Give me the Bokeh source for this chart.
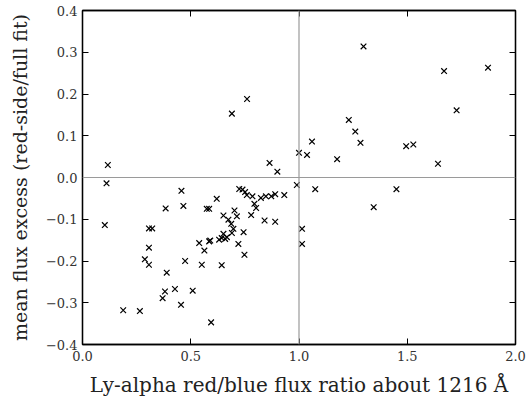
from bokeh.plotting import figure
from bokeh.models import Span, LinearAxis, FixedTicker, Range1d
from bokeh.embed import file_html
from bokeh.resources import INLINE

ratio = [0.117, 0.69, 0.76, 0.864, 0.90, 1.0, 1.037, 1.06, 1.176, 1.23, 1.26, 1.284, 1.298,
         1.495, 1.528, 1.642, 1.67, 1.728, 1.873,
         0.932, 0.99, 1.075, 1.014, 1.014, 1.345, 1.45,
         0.111, 0.103, 0.188, 0.265, 0.288, 0.307, 0.307, 0.307, 0.322, 0.370, 0.381, 0.389,
         0.384, 0.457, 0.466, 0.427, 0.455, 0.474, 0.509, 0.539, 0.551, 0.563, 0.574, 0.585,
         0.585, 0.590, 0.594, 0.62, 0.631, 0.643, 0.643, 0.651, 0.651, 0.659, 0.667, 0.674,
         0.687, 0.69, 0.697, 0.702, 0.713, 0.720, 0.724, 0.739, 0.744, 0.748, 0.751, 0.759,
         0.779, 0.785, 0.794, 0.802, 0.824, 0.841, 0.847, 0.872, 0.890, 0.890]
excess = [0.030, 0.153, 0.188, 0.035, 0.014, 0.059, 0.054, 0.086, 0.044, 0.138, 0.110, 0.083, 0.314,
          0.075, 0.079, 0.033, 0.255, 0.161, 0.263,
          -0.042, -0.018, -0.028, -0.123, -0.159, -0.071, -0.028,
          -0.014, -0.114, -0.318, -0.320, -0.196, -0.209, -0.168, -0.122, -0.122, -0.289, -0.273, -0.228,
          -0.074, -0.032, -0.068, -0.267, -0.305, -0.200, -0.271, -0.157, -0.209, -0.175, -0.075, -0.075,
          -0.153, -0.151, -0.347, -0.051, -0.149, -0.210, -0.145, -0.091, -0.135, -0.147, -0.143, -0.101,
          -0.111, -0.133, -0.123, -0.079, -0.093, -0.159, -0.0275, -0.029, -0.131, -0.185, -0.035, -0.042,
          -0.090, -0.045, -0.063, -0.073, -0.049, -0.103, -0.045, -0.045, -0.040, -0.106]

x_ticks = [0.0, 0.5, 1.0, 1.5, 2.0]
y_ticks = [-0.4, -0.3, -0.2, -0.1, 0.0, 0.1, 0.2, 0.3, 0.4]
y_labels = {t: ("\u2212%.1f" % abs(t)) if t < 0 else "%.1f" % t for t in y_ticks}
x_labels = {t: "%.1f" % t for t in x_ticks}

FONT = "DejaVu Serif"

p = figure(width=531, height=405, output_backend="svg", toolbar_location=None,
           x_range=Range1d(0, 2.0), y_range=Range1d(-0.4, 0.4),
           min_border_left=82, min_border_right=16, min_border_top=10, min_border_bottom=61,
           x_axis_label="Ly-alpha red/blue flux ratio about 1216 \u00c5",
           y_axis_label="mean flux excess (red-side/full fit)")
p.grid.visible = False
p.outline_line_color = "black"
p.outline_line_width = 1.3

p.add_layout(Span(location=1.0, dimension="height", line_color="#9a9a9a", line_width=1.2))
p.add_layout(Span(location=0.0, dimension="width", line_color="#9a9a9a", line_width=1.2))

p.scatter(ratio, excess, marker="x", size=8, line_color="black", line_width=1.2)

for ax, ticks, labels in ((p.xaxis[0], x_ticks, x_labels), (p.yaxis[0], y_ticks, y_labels)):
    ax.ticker = FixedTicker(ticks=ticks)
    ax.major_label_overrides = labels
    ax.major_tick_in = 6
    ax.major_tick_out = 0
    ax.minor_tick_line_color = None
    ax.axis_line_color = "black"
    ax.axis_line_width = 1.3
    ax.major_label_text_font = FONT
    ax.major_label_text_font_size = "13px"
    ax.major_label_text_color = "#333333"
    ax.axis_label_text_font = FONT
    ax.axis_label_text_font_style = "normal"
    ax.axis_label_text_color = "#222222"

p.xaxis[0].axis_label_text_font_size = "20px"
p.yaxis[0].axis_label_text_font_size = "19px"
p.xaxis[0].major_label_standoff = 6
p.xaxis[0].axis_label_standoff = 9
p.yaxis[0].major_label_standoff = 5
p.yaxis[0].axis_label_standoff = 12

for side, ticks in (("above", x_ticks), ("right", y_ticks)):
    a = LinearAxis(ticker=FixedTicker(ticks=ticks), major_tick_in=6, major_tick_out=0,
                   minor_tick_line_color=None, axis_line_color="black", axis_line_width=1.3,
                   major_label_text_font_size="1px", major_label_text_color=None,
                   major_label_overrides={t: "" for t in ticks}, major_label_standoff=0)
    p.add_layout(a, side)

open("out.html", "w").write(file_html(p, INLINE))
